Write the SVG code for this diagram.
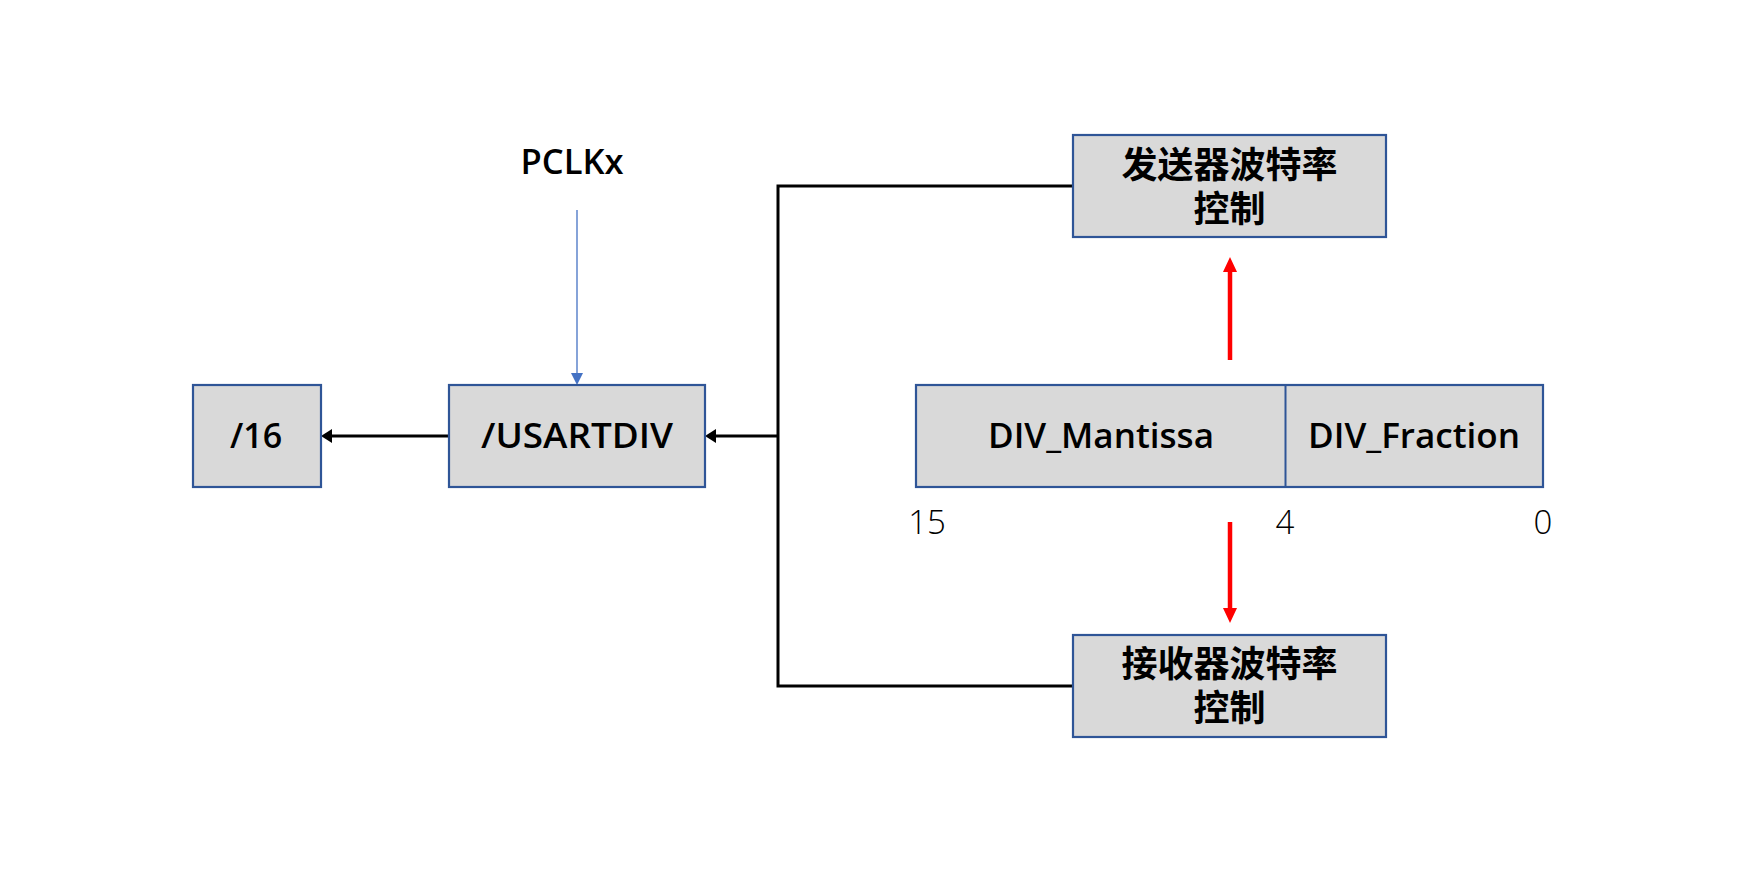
<svg xmlns="http://www.w3.org/2000/svg" width="1760" height="869" viewBox="0 0 1760 869">
<style>
.box{fill:#d9d9d9;stroke:#2f5597;stroke-width:2.2}
.lbl{font-family:"Open Sans","Noto Sans CJK SC",sans-serif;font-weight:600;font-size:34px;fill:#000;text-anchor:middle}
.cn{font-family:"Noto Sans CJK SC",sans-serif;font-weight:700;font-size:36px;fill:#000;text-anchor:middle}
.num{font-family:"Open Sans",sans-serif;font-weight:300;font-size:33px;fill:#000;text-anchor:middle}
.blk{stroke:#000;stroke-width:3;fill:none}
.red{stroke:#ff0000;stroke-width:4.5;fill:none}
</style>
<defs>
<marker id="ab" markerUnits="userSpaceOnUse" markerWidth="11" markerHeight="14" viewBox="0 0 11 14" refX="0" refY="7" orient="auto"><path d="M0,0 L11,7 L0,14 z" fill="#000"/></marker>
<marker id="au" markerUnits="userSpaceOnUse" markerWidth="12" markerHeight="12" viewBox="0 0 12 12" refX="0" refY="6" orient="auto"><path d="M0,0 L12,6 L0,12 z" fill="#4472c4"/></marker>
<marker id="ar" markerUnits="userSpaceOnUse" markerWidth="15" markerHeight="14" viewBox="0 0 15 14" refX="0" refY="7" orient="auto"><path d="M0,0 L15,7 L0,14 z" fill="#ff0000"/></marker>
</defs>
<rect width="1760" height="869" fill="#fff"/>
<g id="connectors">
<line x1="577" y1="210" x2="577" y2="373" stroke="#4472c4" stroke-width="1.3" marker-end="url(#au)"/>
<line class="blk" x1="449" y1="436" x2="332" y2="436" marker-end="url(#ab)"/>
<polyline class="blk" points="1073,186 778,186 778,686 1073,686"/>
<line class="blk" x1="778" y1="436" x2="716" y2="436" marker-end="url(#ab)"/>
<line class="red" x1="1230" y1="360" x2="1230" y2="272" marker-end="url(#ar)"/>
<line class="red" x1="1230" y1="522" x2="1230" y2="608" marker-end="url(#ar)"/>
</g>
<g id="pclk"><text class="lbl" x="572" y="174" font-size="42" font-weight="500" textLength="103" lengthAdjust="spacingAndGlyphs">PCLKx</text></g>
<g id="div16"><rect class="box" x="193" y="385" width="128" height="102"/><text class="lbl" x="256" y="448">/16</text></g>
<g id="usartdiv"><rect class="box" x="449" y="385" width="256" height="102"/><text class="lbl" x="577" y="448" textLength="192" lengthAdjust="spacingAndGlyphs">/USARTDIV</text></g>
<g id="register">
<rect class="box" x="916" y="385" width="627" height="102"/>
<line x1="1285.5" y1="385" x2="1285.5" y2="487" stroke="#2f5597" stroke-width="2"/>
<text class="lbl" x="1101" y="448" textLength="226" lengthAdjust="spacingAndGlyphs">DIV_Mantissa</text>
<text class="lbl" x="1414" y="448" textLength="212" lengthAdjust="spacingAndGlyphs">DIV_Fraction</text>
</g>
<g id="bits">
<text class="num" x="927" y="534">15</text>
<text class="num" x="1285" y="534">4</text>
<text class="num" x="1543" y="534">0</text>
</g>
<g id="tx"><rect class="box" x="1073" y="135" width="313" height="102"/><text class="cn" x="1229.5" y="178">发送器波特率</text><text class="cn" x="1229.5" y="222">控制</text></g>
<g id="rx"><rect class="box" x="1073" y="635" width="313" height="102"/><text class="cn" x="1229.5" y="677">接收器波特率</text><text class="cn" x="1229.5" y="721">控制</text></g>
</svg>
